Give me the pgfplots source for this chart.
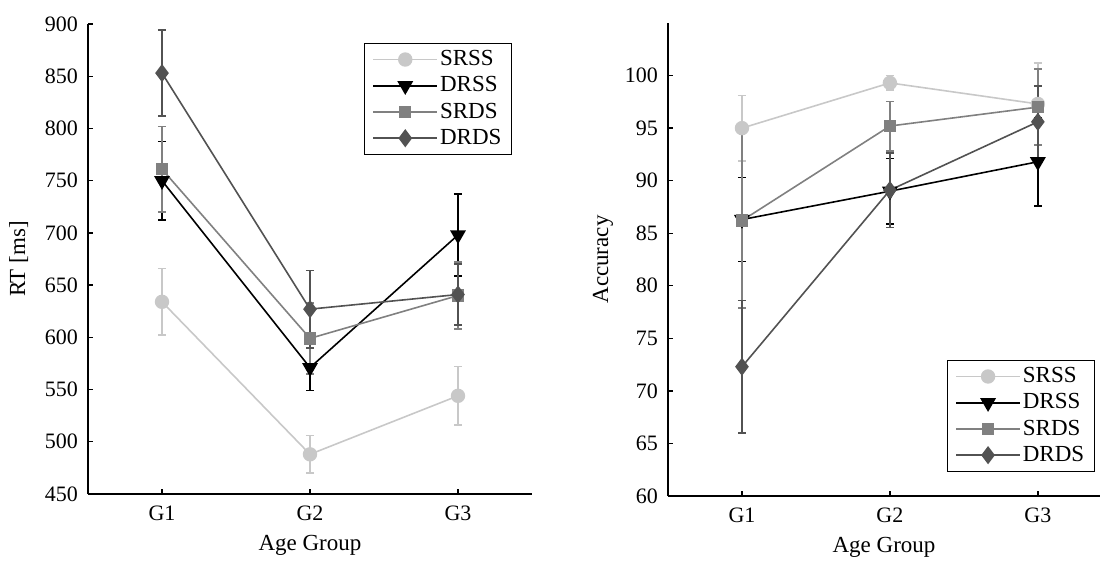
\documentclass[border=0pt]{standalone}
\usepackage{fontspec}
\setmainfont{Liberation Serif}
\usepackage{pgfplots}
\pgfplotsset{compat=1.18}
\definecolor{cSRSS}{RGB}{200,200,200}
\definecolor{cDRSS}{RGB}{0,0,0}
\definecolor{cSRDS}{RGB}{128,128,128}
\definecolor{cDRDS}{RGB}{82,82,82}
\pgfplotsset{
  common/.style={
    scale only axis,
    axis lines=left,
    axis line style={-, line width=0.7pt},
    tick align=inside,
    major tick length=2.5pt,
    tick style={line width=0.7pt, black},
    tick label style={font=\fontsize{11pt}{13pt}\selectfont},
    label style={font=\fontsize{11.5pt}{13pt}\selectfont},
    xticklabel style={yshift=-2.5pt},
    yticklabel style={xshift=-1.5pt},
    /pgf/number format/assume math mode=true,
    xmin=0.5,
    xtick={1,2,3},
    xticklabels={G1,G2,G3},
    xlabel={Age Group},
    xlabel style={yshift=-0.5pt},
    legend cell align=left,
    legend style={draw=black, line width=0.6pt, inner xsep=4pt, inner ysep=2.5pt,
      row sep=2pt, font=\fontsize{11.5pt}{13pt}\selectfont,
      nodes={inner sep=1pt}},
    legend image code/.code={\draw[mark repeat=2,mark phase=2] plot coordinates {(0pt,0pt)(16pt,0pt)(32pt,0pt)};},
    every axis plot/.append style={line width=0.8pt},
    error bars/y dir=both,
    error bars/y explicit,
    error bars/error mark options={rotate=90, mark size=2pt, line width=0.8pt},
  },
  sSRSS/.style={color=cSRSS, mark=*, mark size=3.2pt, mark options={solid,fill=cSRSS,draw=cSRSS},
    error bars/error bar style={cSRSS, line width=0.8pt}},
  sDRSS/.style={color=cDRSS, mark=triangle*, mark size=3.8pt, mark options={solid,rotate=180,fill=cDRSS,draw=cDRSS},
    error bars/error bar style={cDRSS, line width=0.8pt}},
  sSRDS/.style={color=cSRDS, mark=square*, mark size=2.7pt, mark options={solid,fill=cSRDS,draw=cSRDS},
    error bars/error bar style={cSRDS, line width=0.8pt}},
  sDRDS/.style={color=cDRDS, mark=diamond*, mark size=3.9pt, mark options={solid,fill=cDRDS,draw=cDRDS},
    error bars/error bar style={cDRDS, line width=0.8pt}},
}
\begin{document}
\begin{tikzpicture}
\path[use as bounding box] (0,0) rectangle (550pt,-281pt);
% Left: RT
\begin{axis}[common,
  at={(44pt,-247pt)}, anchor=south west,
  width=222pt, height=235pt,
  xmax=3.5,
  ymin=450, ymax=900,
  ytick={450,500,...,900},
  ylabel={RT [ms]},
  ylabel style={yshift=1.5pt},
  legend style={at={(0.955,0.96)}, anchor=north east},
]
\addplot+[sSRSS] coordinates {
  (1,634) +- (0,32)
  (2,488) +- (0,18)
  (3,544) +- (0,28)
};
\addlegendentry{SRSS}
\addplot+[sDRSS] coordinates {
  (1,750) +- (0,37.5)
  (2,571) +- (0,22)
  (3,698) +- (0,39)
};
\addlegendentry{DRSS}
\addplot+[sSRDS] coordinates {
  (1,761) +- (0,41)
  (2,599) +- (0,34)
  (3,640) +- (0,32)
};
\addlegendentry{SRDS}
\addplot+[sDRDS] coordinates {
  (1,853) +- (0,41)
  (2,627) +- (0,37)
  (3,641) +- (0,29)
};
\addlegendentry{DRDS}
\end{axis}
% Right: Accuracy
\begin{axis}[common,
  at={(334pt,-248pt)}, anchor=south west,
  width=216pt, height=236.5pt,
  xmax=3.42,
  ymin=60, ymax=105,
  ytick={60,65,...,100},
  ylabel={Accuracy},
  ylabel style={yshift=-1pt},
  legend style={at={(0.988,0.051)}, anchor=south east},
]
\addplot+[sSRSS] coordinates {
  (1,95.0) +- (0,3.1)
  (2,99.3) +- (0,0.7)
  (3,97.3) +- (0,3.9)
};
\addlegendentry{SRSS}
\addplot+[sDRSS] coordinates {
  (1,86.3) +- (0,4.0)
  (2,89.0) +- (0,3.1)
  (3,91.8) +- (0,4.2)
};
\addlegendentry{DRSS}
\addplot+[sSRDS] coordinates {
  (1,86.2) +- (0,8.3)
  (2,95.2) +- (0,2.35)
  (3,97.0) +- (0,3.6)
};
\addlegendentry{SRDS}
\addplot+[sDRDS] coordinates {
  (1,72.3) +- (0,6.3)
  (2,89.1) +- (0,3.55)
  (3,95.6) +- (0,3.4)
};
\addlegendentry{DRDS}
\end{axis}
\end{tikzpicture}
\end{document}
